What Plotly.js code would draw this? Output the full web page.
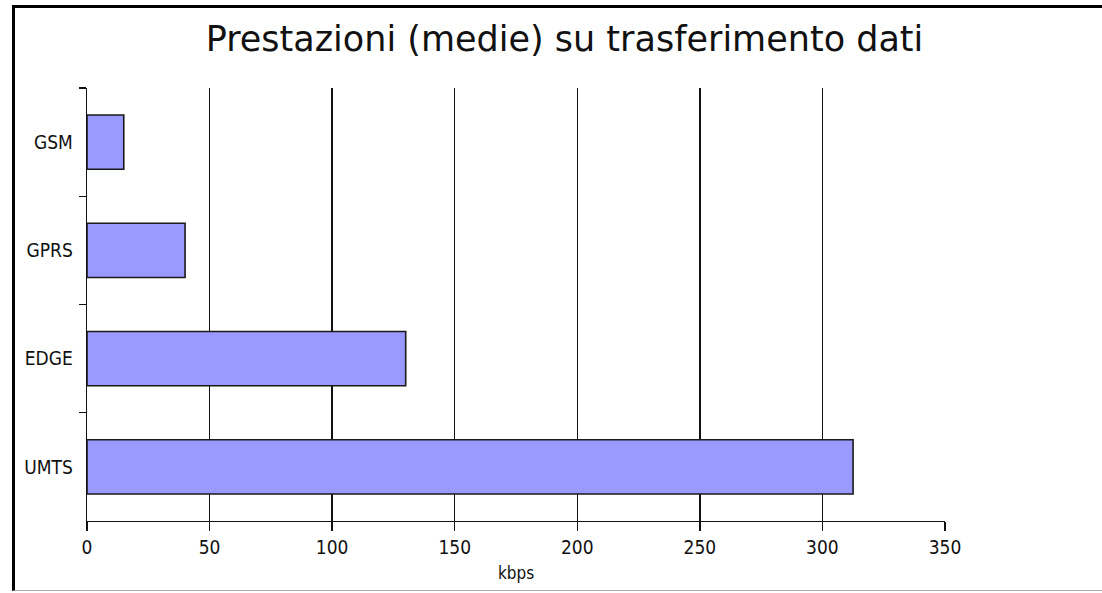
<!DOCTYPE html>
<html>
<head>
<meta charset="utf-8">
<script src="https://cdn.plot.ly/plotly-3.0.1.min.js"></script>
<style>
html,body{margin:0;padding:0;background:#fff;}
#wrap{position:relative;width:1102px;height:593px;}
#chart{position:absolute;left:0;top:0;width:1102px;height:593px;}
#frame{position:absolute;left:12px;top:5px;width:1090px;height:586px;border-left:3px solid #000;border-top:3px solid #000;border-bottom:1px solid #aaa;box-sizing:border-box;pointer-events:none;}
</style>
</head>
<body>
<div id="wrap"><div id="chart"></div><div id="frame"></div></div>
<script>
const categories = ["GSM", "GPRS", "EDGE", "UMTS"];
const speedKbps = [15, 40, 130, 312.5];
const xTickValues = [0, 50, 100, 150, 200, 250, 300, 350];
const chartTitle = "Prestazioni (medie) su trasferimento dati";
const xAxisTitle = "kbps";

const FONT = "DejaVu Sans Condensed, DejaVu Sans, sans-serif";
const TITLE_FONT = "DejaVu Sans, sans-serif";

const trace = {
  type: "bar",
  orientation: "h",
  y: categories,
  x: speedKbps,
  width: 0.5,
  marker: {color: "#9999ff", line: {color: "#1a1a1a", width: 1.6}},
  hoverinfo: "skip"
};

const layout = {
  width: 1102, height: 593,
  margin: {l: 87, r: 157, t: 88, b: 72},
  paper_bgcolor: "#fff", plot_bgcolor: "#fff",
  showlegend: false,
  title: {
    text: chartTitle,
    font: {family: TITLE_FONT, size: 35, color: "#111"},
    x: 564.5/1102, xref: "container", xanchor: "center",
    y: 1 - 39/593, yref: "container", yanchor: "middle"
  },
  xaxis: {
    range: [0, 350],
    tickmode: "array",
    tickvals: xTickValues,
    ticktext: xTickValues.map(String),
    ticks: "outside", ticklen: 9, tickwidth: 1.4, tickcolor: "#111",
    showline: true, linecolor: "#111", linewidth: 1.4,
    showgrid: true, gridcolor: "#111", gridwidth: 1.4,
    zeroline: false,
    tickfont: {family: FONT, size: 19, color: "#111"},
    title: {text: xAxisTitle, font: {family: FONT, size: 17, color: "#111"}, standoff: 10},
    fixedrange: true
  },
  yaxis: {
    type: "category",
    categoryorder: "array", categoryarray: categories,
    autorange: "reversed",
    tickson: "boundaries",
    ticks: "outside", ticklen: 7, tickwidth: 1.4, tickcolor: "#111",
    showline: true, linecolor: "#111", linewidth: 1.4,
    showgrid: false, zeroline: false,
    tickfont: {family: FONT, size: 19, color: "#111"},
    ticklabelstandoff: 9,
    fixedrange: true
  }
};

Plotly.newPlot("chart", [trace], layout, {displayModeBar: false, staticPlot: true});
</script>
</body>
</html>
